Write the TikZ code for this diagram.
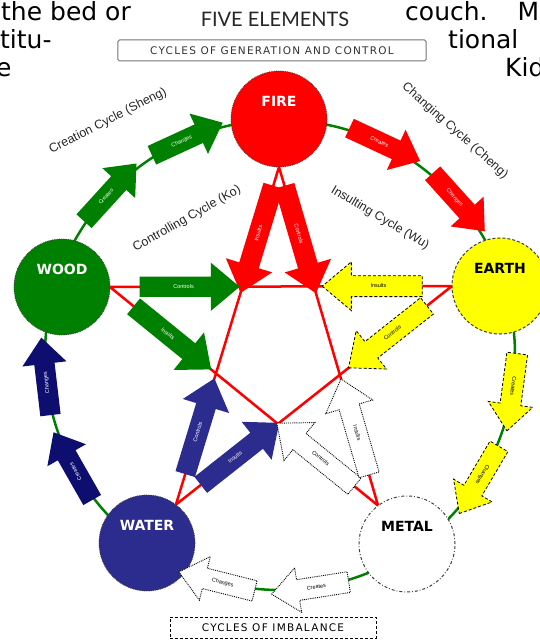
\documentclass[tikz,border=0pt]{standalone}
\usepackage{fontspec}
\setmainfont{Liberation Sans}
\newfontfamily\titlefont{Lato}
\newfontfamily\elemfont{DejaVu Sans}
\newfontfamily\capsfont[LetterSpace=12]{DejaVu Sans}
\usepackage{tikz}
\usetikzlibrary{shapes,arrows.meta,positioning,calc,backgrounds}
\definecolor{woodgreen}{RGB}{0,128,0}
\definecolor{firered}{RGB}{255,0,0}
\definecolor{earthyellow}{RGB}{255,255,0}
\definecolor{waterblue}{RGB}{44,44,142}
\definecolor{deepwater}{RGB}{14,14,112}
\tikzstyle{pagetext} = [anchor=base west,inner sep=0pt,font=\elemfont\fontsize{25}{25}\selectfont]
\tikzstyle{elem} = [circle,inner sep=0pt,outer sep=0pt,minimum size=96pt,draw=black!75,densely dotted,line width=0.8pt]
\tikzstyle{elabel} = [font=\elemfont\bfseries\fontsize{14}{14}\selectfont]
\tikzstyle{fat} = [single arrow,single arrow tip angle=80,inner xsep=3pt,inner ysep=7pt,text height=4.5pt,text depth=1.5pt,font=\fontsize{5.5}{6}\selectfont]
\tikzstyle{ringfat} = [fat,minimum height=78pt,single arrow head extend=12pt]
\tikzstyle{starfat} = [fat,minimum height=100pt,single arrow head extend=14pt]
\tikzstyle{woodfat} = [fill=woodgreen,text=white]
\tikzstyle{firefat} = [fill=firered,text=white]
\tikzstyle{earthfat} = [fill=earthyellow,draw=black,densely dashed,line width=0.8pt,text=black]
\tikzstyle{waterfat} = [fill=waterblue,text=white]
\tikzstyle{deepwaterfat} = [fill=deepwater,text=white]
\tikzstyle{metalfat} = [fill=white,draw=black,densely dotted,line width=0.9pt,text=black]
\tikzstyle{cyclename} = [font=\fontsize{12.5}{12.5}\selectfont,text=black!85]
\tikzstyle{banner} = [font=\capsfont\fontsize{10.5}{10.5}\selectfont,minimum height=21pt,inner sep=0pt]

\begin{document}
\begin{tikzpicture}[x=1pt,y=1pt]
    \useasboundingbox (-280,-285) rectangle (260,355);
    % page text around the figure
    \node [pagetext] (bed) at (-279,334) {the bed or};
    \node [pagetext] (couch) at (125,334) {couch.\hspace{30pt}M};
    \node [pagetext] (titu) at (-280,306) {titu-};
    \node [pagetext] (tional) at (168,306) {tional};
    \node [pagetext] (e) at (-284,278) {e};
    \node [pagetext] (kid) at (225,278) {Kid};
    % heading
    \node [font=\titlefont\fontsize{20}{20}\selectfont,text=black!85] (title) at (-5,336) {FIVE ELEMENTS};
    \node [banner,draw=black!55,line width=1pt,rounded corners=1.5pt,minimum width=308pt,text=black!80] (gen) at (-8,304.5) {CYCLES OF GENERATION AND CONTROL};
    \node [banner,draw=black,densely dashed,line width=0.8pt,minimum width=206pt] (imbalance) at (-7,-272.5) {CYCLES OF IMBALANCE};
    % the elements
    \node [elem,fill=firered] (fire) at (-1,236) {};
    \node [elem,fill=woodgreen] (wood) at (-218,68) {};
    \node [elem,fill=earthyellow,densely dashed,line width=1pt] (earth) at (220,69) {};
    \node [elem,fill=waterblue] (water) at (-133,-188) {};
    \node [elem,fill=white,dash dot,line width=1pt] (metal) at (127,-189) {};
    \node [elabel,text=white] (firetxt) at ([yshift=18pt]fire.center) {FIRE};
    \node [elabel,text=white] (woodtxt) at ([yshift=18pt]wood.center) {WOOD};
    \node [elabel] (earthtxt) at ([yshift=18pt]earth.center) {EARTH};
    \node [elabel,text=white] (watertxt) at ([yshift=18pt]water.center) {WATER};
    \node [elabel] (metaltxt) at ([yshift=18pt]metal.center) {METAL};
    \begin{scope}[on background layer]
      \draw [woodgreen,line width=2.5pt] (0,0) circle (235pt);
      \draw [firered,line width=2.5pt] (fire.south) -- (water.53) (fire.south) -- (metal.127)
        (wood.east) -- (earth.west) (wood.east) -- (metal.127) (earth.west) -- (water.53);
    \end{scope}
    % arrows round the ring
    \foreach \a/\s/\f/\la/\lb [count=\i] in {162.7/woodfat/0/Creates/Changes, 90/firefat/0/Creates/Changes,
        17.4/earthfat/0/Creates/Changes, -56.1/metalfat/180/Creates/Changes, 234.7/deepwaterfat/0/Creates/Changes} {
      \node [ringfat,\s,rotate=\a-115-\f,shape border rotate=\f] (ringa\i) at ({\a-25}:235pt) {\la};
      \node [ringfat,\s,rotate=\a-138-\f,shape border rotate=\f] (ringb\i) at ({\a-48}:235pt) {\lb};
    }
    % arrows inside the star
    \node [starfat,firefat,minimum height=112pt,rotate=73.05,shape border rotate=180] (firewater) at ($(fire.south)!0.197!(water.53)$) {Insults};
    \node [starfat,firefat,minimum height=112pt,rotate=-73.7] (firemetal) at ($(fire.south)!0.197!(metal.127)$) {Controls};
    \node [starfat,woodfat] (woodearth) at ($(wood.east)!0.215!(earth.west)$) {Controls};
    \node [starfat,woodfat,rotate=-39.1] (woodmetal) at ($(wood.east)!0.215!(metal.127)$) {Insults};
    \node [starfat,earthfat,shape border rotate=180] (earthwood) at ($(earth.west)!0.215!(wood.east)$) {Insults};
    \node [starfat,earthfat,rotate=38.3,shape border rotate=180] (earthwater) at ($(earth.west)!0.215!(water.53)$) {Controls};
    \node [starfat,waterfat,rotate=73.05] (waterfire) at ($(water.53)!0.215!(fire.south)$) {Controls};
    \node [starfat,waterfat,rotate=38.3] (waterearth) at ($(water.53)!0.215!(earth.west)$) {Insults};
    \node [starfat,metalfat,rotate=-39.1,shape border rotate=180] (metalwood) at ($(metal.127)!0.215!(wood.east)$) {Controls};
    \node [starfat,metalfat,rotate=-73.7,shape border rotate=180] (metalfire) at ($(metal.127)!0.215!(fire.south)$) {Insults};
    % names of the cycles
    \node [cyclename,rotate=27] (sheng) at (-172,234) {Creation Cycle (Sheng)};
    \node [cyclename,rotate=-41.6] (cheng) at (175,224) {Changing Cycle (Cheng)};
    \node [cyclename,rotate=29.5] (ko) at (-93,136) {Controlling Cycle (Ko)};
    \node [cyclename,rotate=-30.7] (wu) at (100,137) {Insulting Cycle (Wu)};
\end{tikzpicture}
\end{document}
